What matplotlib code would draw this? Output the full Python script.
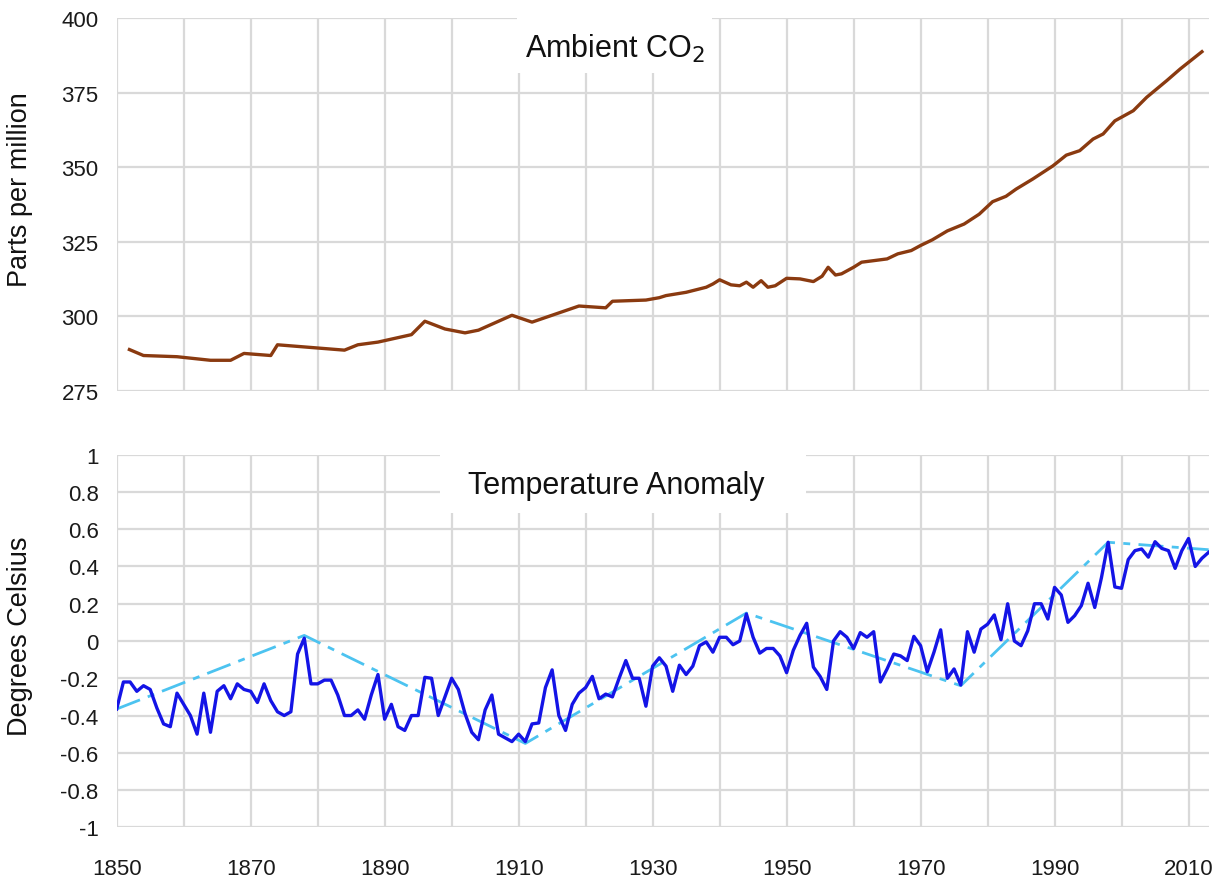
import matplotlib
matplotlib.use("Agg")
import matplotlib.pyplot as plt
from matplotlib.patches import Rectangle

plt.rcParams['font.family'] = ['Liberation Sans', 'DejaVu Sans']

# ---------------- data ----------------
co2_years = [1851.9, 1854, 1859, 1864, 1867, 1869, 1873, 1874, 1884, 1886, 1889, 1894,
             1896, 1899, 1902, 1904, 1909, 1912, 1919, 1923, 1924, 1929, 1931, 1932,
             1935, 1938, 1939, 1940, 1941.7, 1943, 1944, 1945, 1946.2, 1947.2, 1948.3,
             1950, 1952, 1954, 1955.3, 1956.2, 1957.3, 1958.2, 1960, 1961.2, 1962.6,
             1965, 1966.6, 1968.6, 1970, 1971.75, 1974, 1976.5, 1978.75, 1980.75,
             1982.75, 1984.25, 1986.75, 1989.75, 1991.75, 1993.75, 1995.75, 1997.25,
             1999, 2001.75, 2003.75, 2006.75, 2008.75, 2012]
co2_ppm = [288.8, 286.8, 286.4, 285.2, 285.2, 287.5, 286.8, 290.4, 288.6, 290.4, 291.3, 293.8,
           298.3, 295.7, 294.4, 295.3, 300.3, 298.0, 303.4, 302.8, 305.0, 305.4, 306.2, 306.9,
           308.0, 309.7, 310.8, 312.2, 310.5, 310.2, 311.4, 309.7, 311.9, 309.7, 310.2,
           312.7, 312.5, 311.6, 313.4, 316.4, 313.8, 314.2, 316.4, 318.1, 318.5,
           319.2, 320.9, 322.0, 323.7, 325.6, 328.6, 330.9, 334.2, 338.4,
           340.2, 342.6, 346.0, 350.4, 354.0, 355.5, 359.4, 361.1,
           365.5, 368.9, 373.4, 379.0, 382.9, 388.7]

temp_years = list(range(1850, 2014))
temp_anom = [
    -0.365, -0.22, -0.22, -0.27, -0.24, -0.26, -0.36, -0.445, -0.46, -0.28,   # 1850-1859
    -0.34, -0.40, -0.50, -0.28, -0.49, -0.27, -0.24, -0.31, -0.23, -0.26,     # 1860-1869
    -0.27, -0.33, -0.23, -0.32, -0.38, -0.40, -0.38, -0.07, 0.015, -0.23,     # 1870-1879
    -0.23, -0.21, -0.21, -0.29, -0.40, -0.40, -0.37, -0.42, -0.29, -0.18,     # 1880-1889
    -0.42, -0.34, -0.46, -0.48, -0.40, -0.40, -0.195, -0.20, -0.40, -0.30,    # 1890-1899
    -0.20, -0.26, -0.39, -0.49, -0.53, -0.37, -0.29, -0.50, -0.52, -0.54,     # 1900-1909
    -0.50, -0.54, -0.445, -0.44, -0.25, -0.155, -0.40, -0.48, -0.34, -0.28,   # 1910-1919
    -0.25, -0.19, -0.31, -0.285, -0.30, -0.20, -0.105, -0.20, -0.20, -0.35,   # 1920-1929
    -0.135, -0.09, -0.135, -0.27, -0.13, -0.18, -0.135, -0.025, -0.005, -0.06,  # 1930-1939
    0.02, 0.02, -0.02, 0.0, 0.145, 0.02, -0.065, -0.04, -0.04, -0.08,         # 1940-1949
    -0.17, -0.05, 0.03, 0.095, -0.14, -0.19, -0.26, 0.0, 0.05, 0.02,          # 1950-1959
    -0.04, 0.045, 0.02, 0.05, -0.22, -0.15, -0.07, -0.08, -0.105, 0.025,      # 1960-1969
    -0.025, -0.165, -0.06, 0.06, -0.20, -0.15, -0.236, 0.05, -0.06, 0.064,    # 1970-1979
    0.09, 0.14, 0.007, 0.20, 0.0, -0.025, 0.055, 0.20, 0.20, 0.118,           # 1980-1989
    0.288, 0.247, 0.10, 0.136, 0.19, 0.31, 0.18, 0.34, 0.53, 0.29,            # 1990-1999
    0.283, 0.437, 0.485, 0.494, 0.45, 0.533, 0.497, 0.485, 0.39, 0.485,      # 2000-2009
    0.55, 0.40, 0.444, 0.476,                                                 # 2010-2013
]

trend_years = [1850, 1878, 1911, 1944, 1976, 1998, 2013]
trend_anom = [-0.365, 0.03, -0.55, 0.15, -0.24, 0.53, 0.49]

co2_yticks = [275, 300, 325, 350, 375, 400]
temp_yticks = [-1, -0.8, -0.6, -0.4, -0.2, 0, 0.2, 0.4, 0.6, 0.8, 1]
temp_ylabels = ['-1', '-0.8', '-0.6', '-0.4', '-0.2', '0', '0.2', '0.4', '0.6', '0.8', '1']
x_ticks = list(range(1850, 2011, 10))
x_labels = ['1850', '', '1870', '', '1890', '', '1910', '', '1930', '', '1950', '',
            '1970', '', '1990', '', '2010']

# ---------------- figure ----------------
W, H = 1217, 878
fig = plt.figure(figsize=(W / 100, H / 100), dpi=100)

def fx(px):
    return px / W

def fy(py):
    return 1 - py / H

left, right = 116.7, 1209.3
ax1 = fig.add_axes([fx(left), fy(391.7), fx(right - left), (391.7 - 19) / H])
ax2 = fig.add_axes([fx(left), fy(828.3), fx(right - left), (828.3 - 455.7) / H])

grid_c = '#d9d9d9'
XMAX = 2013.1
for ax in (ax1, ax2):
    ax.set_xlim(1850, XMAX)
    ax.set_xticks(x_ticks)
    for s in ax.spines.values():
        s.set_visible(False)
    ax.grid(True, color=grid_c, linewidth=1.6, zorder=0)
    ax.set_axisbelow(True)
    ax.tick_params(length=0, labelsize=16, colors='#1a1a1a')

# top chart
ax1.plot(co2_years, co2_ppm, color='#8a3a10', linewidth=2.4, zorder=3,
         solid_joinstyle='round')
ax1.set_ylim(275, 400)
ax1.set_yticks(co2_yticks)
ax1.set_yticklabels([str(v) for v in co2_yticks])
ax1.tick_params(axis='y', pad=13)
ax1.tick_params(axis='x', labelbottom=False)
ax1.add_patch(Rectangle((1909.7, 381.5), 1938.8 - 1909.7, 30, facecolor='white',
                        edgecolor='none', zorder=1, clip_on=False))
ax1.text(1924.4, 387.0, 'Ambient CO$_2$', ha='center', va='baseline', fontsize=22,
         color='#111111', zorder=5)

# bottom chart
ax2.plot(trend_years, trend_anom, color='#4cc3f0', linewidth=2.0,
         linestyle=(0, (9, 3, 2.5, 3)), zorder=3)
ax2.plot(temp_years, temp_anom, color='#1414e6', linewidth=2.4, zorder=4,
         solid_joinstyle='round')
ax2.set_ylim(-1, 1)
ax2.set_yticks(temp_yticks)
ax2.set_yticklabels(temp_ylabels)
ax2.set_xticklabels(x_labels)
ax2.tick_params(axis='y', pad=13)
ax2.tick_params(axis='x', pad=22)
ax2.add_patch(Rectangle((1898.2, 0.687), 1952.9 - 1898.2, 0.5, facecolor='white',
                        edgecolor='none', zorder=1, clip_on=False))
ax2.text(1924.5, 0.795, 'Temperature Anomaly', ha='center', va='baseline', fontsize=22,
         color='#111111', zorder=5)

fig.text(fx(20), fy(190), 'Parts per million', rotation=90, ha='center', va='center',
         fontsize=19.5, color='#111111')
fig.text(fx(20), fy(636), 'Degrees Celsius', rotation=90, ha='center', va='center',
         fontsize=19.5, color='#111111')

fig.savefig('out.png', dpi=100, facecolor='white')
